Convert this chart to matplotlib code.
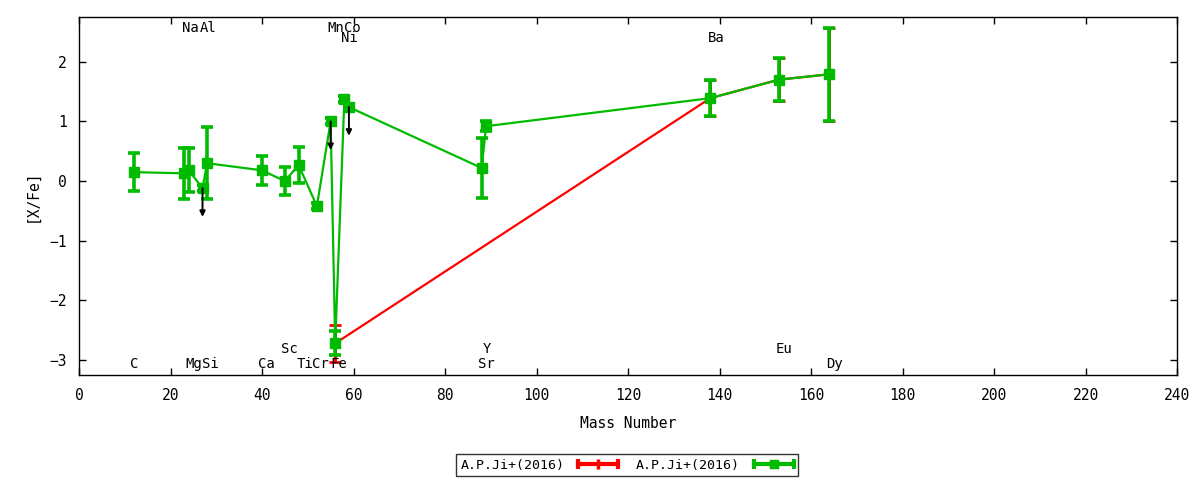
import matplotlib
matplotlib.use("Agg")
import matplotlib.pyplot as plt
from matplotlib.legend_handler import HandlerBase
from matplotlib.lines import Line2D

plt.rcParams['font.family'] = ['DejaVu Sans Mono', 'DejaVu Sans']

# ---- data ----
elements = ["C", "Na", "Mg", "Al", "Si", "Ca", "Sc", "Ti", "Cr", "Mn", "Fe",
            "Ni", "Co", "Sr", "Y", "Ba", "Eu", "Dy"]
mass = [12, 23, 24, 27, 28, 40, 45, 48, 52, 55, 56, 58, 59, 88, 89, 138, 153, 164]
xfe = [0.15, 0.13, 0.18, -0.12, 0.30, 0.18, 0.00, 0.27, -0.42, 1.00, -2.72,
       1.37, 1.24, 0.22, 0.92, 1.39, 1.70, 1.79]
xfe_err = [0.32, 0.43, 0.37, 0.05, 0.60, 0.24, 0.24, 0.30, 0.05, 0.05, 0.20,
           0.05, 0.05, 0.50, 0.08, 0.30, 0.36, 0.78]
upper_limit = [False, False, False, True, False, False, False, False, False, True,
               False, False, True, False, False, False, False, False]
limit_length = 0.48

red_mass = [56, 138, 153, 164]
red_xfe = [-2.72, 1.39, 1.70, 1.79]
red_err = [0.31, 0.30, 0.36, 0.78]

# element label positions (x, y)
label_x = [12.0, 24.3, 25.1, 28.3, 28.7, 41.0, 46.0, 49.3, 52.8, 56.2, 56.8,
           59.1, 59.8, 89.0, 89.2, 139.2, 154.1, 165.2]
label_y = [-3.07, 2.57, -3.07, 2.57, -3.07, -3.07, -2.82, -3.07, -3.07, 2.57, -3.07,
           2.40, 2.57, -3.07, -2.82, 2.40, -2.82, -3.07]

legend_labels = ["A.P.Ji+(2016)", "A.P.Ji+(2016)"]

red = "#ff0000"
green = "#00bb00"

fig = plt.figure(figsize=(12, 4.8), dpi=100)
ax = fig.add_axes([79/1200, 1-375/480, (1177-79)/1200, (375-17)/480])

ax.errorbar(red_mass, red_xfe, yerr=red_err, color=red, lw=1.6, elinewidth=2.2,
            capsize=4, capthick=2.0, marker='s', markersize=4, zorder=2)
ax.errorbar(mass, xfe, yerr=xfe_err, color=green, lw=1.6, elinewidth=2.6,
            capsize=4.5, capthick=2.6, marker='s', markersize=6.5, zorder=3)

for m, v, u in zip(mass, xfe, upper_limit):
    if u:
        ax.annotate("", xy=(m, v - limit_length), xytext=(m, v),
                    arrowprops=dict(arrowstyle='-|>', color='black', lw=1.4,
                                    mutation_scale=8, shrinkA=0, shrinkB=0),
                    zorder=4)

for el, lx, ly in zip(elements, label_x, label_y):
    ax.text(lx, ly, el, ha='center', va='center', fontsize=10)

ax.set_xlim(0, 240)
ax.set_ylim(-3.25, 2.75)
ax.set_xticks(range(0, 241, 20))
ax.set_yticks(range(-3, 3))
ax.tick_params(direction='in', top=True, right=True, length=5, width=1,
               labelsize=10.5, pad=9)
for s in ax.spines.values():
    s.set_linewidth(1)
ax.set_xlabel("Mass Number", fontsize=10.5, labelpad=10)
ax.set_ylabel("[X/Fe]", fontsize=10.5, labelpad=7)


class ErrLineHandler(HandlerBase):
    def __init__(self, color, mid_marker, ms):
        super().__init__()
        self.color = color
        self.mid_marker = mid_marker
        self.ms = ms

    def create_artists(self, legend, orig_handle, xdescent, ydescent, width,
                       height, fontsize, trans):
        y = height / 2 - ydescent
        x0, x1 = -xdescent, -xdescent + width
        line = Line2D([x0, x1], [y, y], color=self.color, lw=3, transform=trans)
        caps = Line2D([x0, x1], [y, y], color=self.color, lw=0, marker='|',
                      markersize=7, mew=3, transform=trans)
        mid = Line2D([(x0 + x1) / 2], [y], color=self.color, lw=0,
                     marker=self.mid_marker, markersize=self.ms,
                     mew=2.5, transform=trans)
        return [line, caps, mid]


h_red = Line2D([], [], color=red)
h_green = Line2D([], [], color=green)
leg = fig.legend([h_red, h_green], legend_labels, loc='center',
                 bbox_to_anchor=(627/1200, 1-465/480), ncol=2, markerfirst=False,
                 frameon=True, fancybox=False, edgecolor='black', fontsize=9.5,
                 handlelength=3.0, columnspacing=1.4, borderpad=0.35,
                 handletextpad=1.05,
                 handler_map={h_red: ErrLineHandler(red, '|', 7),
                              h_green: ErrLineHandler(green, 's', 5)})
leg.get_frame().set_linewidth(1)

fig.savefig("out.png", dpi=100)
